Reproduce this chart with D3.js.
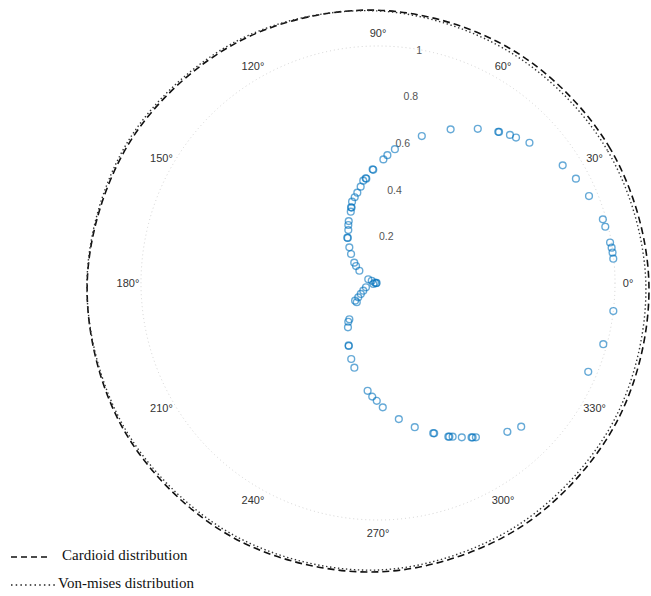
<!DOCTYPE html>
<html>
<head>
<meta charset="utf-8">
<script src="https://cdn.jsdelivr.net/npm/d3@7"></script>
<style>
  body { margin: 0; background: #fff; }
</style>
</head>
<body>
<div id="chart"></div>
<script>
// observed samples: angle (deg) and radius
const sampleTheta = [73.4, 64.7, 57.1, 51.5, 51.3, 48.3, 46.5, 42.8, 32.5, 27.8, 22.4, 15.8, 13.9, 9.9, 8.6, 7.4, 5.9,
    353.2, 344.8, 337.1, 314.9, 311.0, 302.4, 301.5, 301.2, 298.5, 295.9, 294.9, 294.6, 290.5, 290.2, 284.3, 278.7,
    272.2, 269.4, 267.1, 264.5, 254.4, 250.6, 245.1, 244.8, 235.9, 232.5, 231.7, 222.2, 217.6, 216.0, 212.5, 207.6,
    199.7, 192.0, 185.0, 178.0, 174.0, 160.0, 159.1, 146.7, 142.3, 139.4, 132.9, 128.8, 124.1, 123.8, 119.3, 117.1,
    115.3, 110.9, 109.6, 109.3, 107.7, 105.2, 102.9, 100.2, 98.2, 96.7, 96.4, 92.7, 92.4, 87.5, 85.8, 82.8];
const sampleR = [0.647, 0.717, 0.775, 0.815, 0.817, 0.837, 0.846, 0.871, 0.924, 0.944, 0.963, 0.986, 0.988, 0.994, 0.997, 0.998, 0.998,
    1.0, 0.985, 0.963, 0.856, 0.832, 0.771, 0.764, 0.762, 0.741, 0.721, 0.715, 0.713, 0.677, 0.675, 0.628, 0.581,
    0.525, 0.497, 0.480, 0.457, 0.371, 0.340, 0.293, 0.291, 0.226, 0.206, 0.195, 0.121, 0.122, 0.103, 0.086, 0.070,
    0.054, 0.020, 0.008, 0.006, 0.013, 0.028, 0.044, 0.094, 0.117, 0.132, 0.167, 0.193, 0.231, 0.229, 0.256, 0.275,
    0.289, 0.322, 0.339, 0.337, 0.360, 0.375, 0.391, 0.413, 0.436, 0.445, 0.443, 0.480, 0.478, 0.522, 0.541, 0.569];

// distribution curves, radius at each angle
const curveTheta = [0, 30, 60, 90, 120, 150, 180, 210, 240, 270, 300, 330];
const cardioidR = [1.143, 1.132, 1.135, 1.151, 1.176, 1.204, 1.227, 1.239, 1.236, 1.219, 1.193, 1.165];
const vonMisesR = [1.130, 1.118, 1.122, 1.148, 1.182, 1.212, 1.228, 1.232, 1.226, 1.211, 1.180, 1.152];

const thetaTicks = [0, 30, 60, 90, 120, 150, 180, 210, 240, 270, 300, 330];
const rTicks = [0.2, 0.4, 0.6, 0.8, 1];
const legendLabels = ["Cardioid distribution", "Von-mises distribution"];

const width = 651, height = 596;
const cx = 378, cy = 283;

const svg = d3.select("#chart")
    .append("svg")
    .attr("width", width)
    .attr("height", height)
    .style("font-family", "'Liberation Sans', Arial, sans-serif");

const g = svg.append("g")
    .attr("transform", `translate(${cx},${cy})`);

const r = d3.scaleLinear().domain([0, 1]).range([0, 237]);
const rad = d => d * Math.PI / 180;
const px = (t, v) => r(v) * Math.cos(rad(t));
const py = (t, v) => -r(v) * Math.sin(rad(t));

// grid circle at r = 1
g.append("circle")
    .attr("r", r(1))
    .attr("fill", "none")
    .attr("stroke", "#c8c8c8")
    .attr("stroke-width", 0.8)
    .attr("stroke-dasharray", "1,3");

// theta labels
g.selectAll(".tlabel")
    .data(thetaTicks)
    .join("text")
    .attr("x", d => px(d, 1.055))
    .attr("y", d => py(d, 1.055))
    .attr("text-anchor", "middle")
    .attr("dominant-baseline", "central")
    .attr("font-size", 11)
    .attr("fill", "#333")
    .text(d => d + "°");

// r labels along 80 deg
g.selectAll(".rlabel")
    .data(rTicks)
    .join("text")
    .attr("x", d => px(80, d))
    .attr("y", d => py(80, d))
    .attr("text-anchor", "middle")
    .attr("dominant-baseline", "central")
    .attr("font-size", 10.5)
    .attr("fill", "#555")
    .text(d => d);

// distribution curves
const radial = d3.lineRadial()
    .angle(d => Math.PI / 2 - rad(d[0]))
    .radius(d => r(d[1]))
    .curve(d3.curveCatmullRomClosed.alpha(0.5));

g.append("path")
    .datum(curveTheta.map((t, i) => [t, cardioidR[i]]))
    .attr("fill", "none")
    .attr("stroke", "#111")
    .attr("stroke-width", 1.6)
    .attr("stroke-dasharray", "7,4")
    .attr("d", radial);

g.append("path")
    .datum(curveTheta.map((t, i) => [t, vonMisesR[i]]))
    .attr("fill", "none")
    .attr("stroke", "#333")
    .attr("stroke-width", 1.4)
    .attr("stroke-dasharray", "1.4,2.6")
    .attr("d", radial);

// scatter points
g.selectAll(".pt")
    .data(sampleTheta.map((t, i) => [t, sampleR[i]]))
    .join("circle")
    .attr("cx", d => px(d[0], d[1]))
    .attr("cy", d => py(d[0], d[1]))
    .attr("r", 3.4)
    .attr("fill", "none")
    .attr("stroke", "#0072BD")
    .attr("stroke-opacity", 0.6)
    .attr("stroke-width", 1.4);

// legend
const legend = svg.append("g")
    .style("font-family", "'Liberation Serif', 'Times New Roman', serif");

legend.append("line")
    .attr("x1", 11).attr("x2", 50)
    .attr("y1", 557).attr("y2", 557)
    .attr("stroke", "#111")
    .attr("stroke-width", 1.6)
    .attr("stroke-dasharray", "6,4");

legend.append("line")
    .attr("x1", 11).attr("x2", 55)
    .attr("y1", 585).attr("y2", 585)
    .attr("stroke", "#222")
    .attr("stroke-width", 1.5)
    .attr("stroke-dasharray", "1.5,3.2");

legend.selectAll(".ltext")
    .data(legendLabels)
    .join("text")
    .attr("x", (d, i) => i === 0 ? 62 : 58)
    .attr("y", (d, i) => 560 + i * 28)
    .attr("font-size", 15)
    .attr("fill", "#111")
    .text(d => d);
</script>
</body>
</html>
